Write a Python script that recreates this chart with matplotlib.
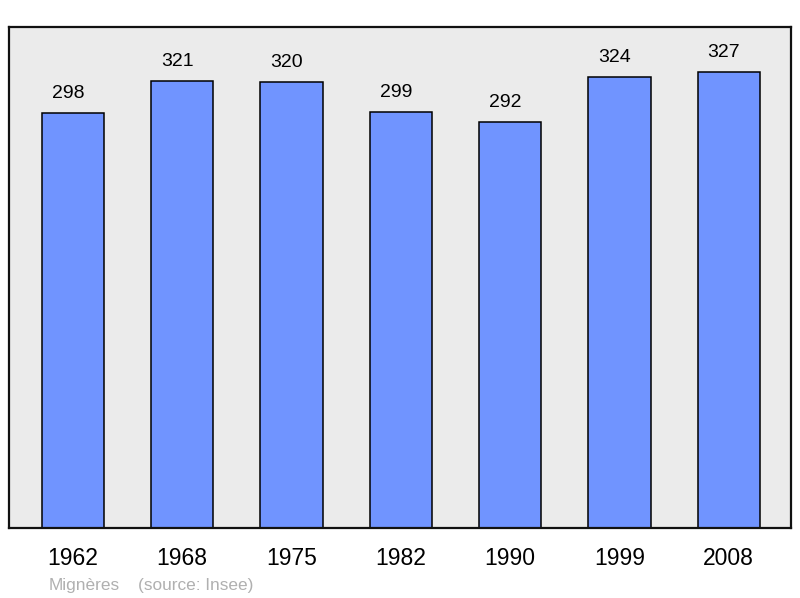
import matplotlib
matplotlib.use("Agg")
import matplotlib.pyplot as plt

years = ["1962", "1968", "1975", "1982", "1990", "1999", "2008"]
population = [298, 321, 320, 299, 292, 324, 327]
commune = "Mignères"
source = "(source: Insee)"

plt.rcParams['font.family'] = ['Liberation Sans', 'DejaVu Sans']

fig = plt.figure(figsize=(8, 5.98), dpi=100)
ax = fig.add_axes([9/800, 1-528/598, 782/800, 501/598])
ax.set_facecolor('#ebebeb')
x = list(range(len(years)))
ax.bar(x, population, width=0.57, color='#7094ff', edgecolor='black', linewidth=1.1, zorder=2)
ax.set_xlim(-0.585, 6.57)
ax.set_ylim(5, 359)
for xi, v in zip(x, population):
    ax.annotate(str(v), (xi, v), xytext=(-5, 15), textcoords='offset pixels',
                ha='center', va='baseline', fontsize=14)
ax.set_yticks([])
ax.set_xticks(x)
ax.set_xticklabels(years, fontsize=16.5)
ax.tick_params(axis='x', length=0, pad=13.5)
for s in ax.spines.values():
    s.set_linewidth(1.6)
    s.set_color('#111111')
fig.text(49/800, 1-590/598, commune, fontsize=12.4, color='#b0b0b0', va='baseline', ha='left')
fig.text(138/800, 1-590/598, source, fontsize=12.4, color='#b0b0b0', va='baseline', ha='left')
fig.savefig('out.png', dpi=100)
